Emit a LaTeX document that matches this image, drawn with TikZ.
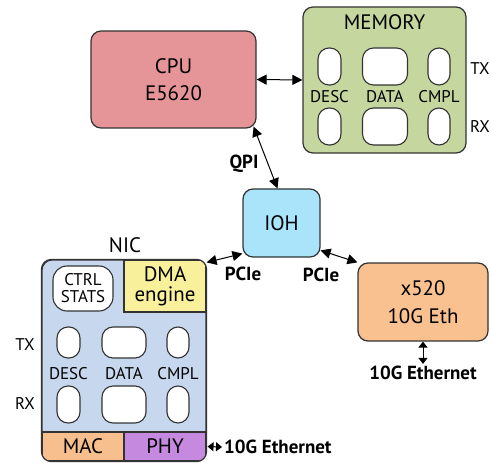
\documentclass[tikz,border=0pt]{standalone}
\usepackage{fontspec}
\setmainfont{PT Sans}
\usetikzlibrary{arrows.meta}
\definecolor{edgecol}{HTML}{333333}
\definecolor{cpucol}{HTML}{E59597}
\definecolor{memcol}{HTML}{C5D79E}
\definecolor{iohcol}{HTML}{AAE4FB}
\definecolor{ethcol}{HTML}{F8C18F}
\definecolor{niccol}{HTML}{C7D8EE}
\definecolor{dmacol}{HTML}{F8F09A}
\definecolor{maccol}{HTML}{F8BF8E}
\definecolor{phycol}{HTML}{C58AE0}
\newcommand\bigfont{\fontsize{21}{24}\selectfont}
\newcommand\midfont{\fontsize{17}{19}\selectfont}
\newcommand\busfont{\fontsize{19}{22}\selectfont\bfseries}
\tikzset{
  blk/.style     = {draw=edgecol,line width=1.2bp,rounded corners=10bp,inner sep=0pt,align=center,font=\bigfont},
  pill/.style    = {draw=edgecol,line width=1.1bp,fill=white,inner sep=0pt,rounded corners=11bp},
  part/.style    = {draw=edgecol,line width=1.1bp,inner sep=0pt,align=center,font=\bigfont},
  dblarr/.style  = {{Triangle[length=10bp,width=10bp]}-{Triangle[length=10bp,width=10bp]},line width=1bp},
  tinyarr/.style = {{Triangle[length=6bp,width=9bp]}-{Triangle[length=6bp,width=9bp]},line width=1bp},
  lbl/.style     = {font=\midfont,inner sep=0pt},
  bus/.style     = {font=\busfont,inner sep=0pt}
}

\begin{document}
\begin{tikzpicture}[x=1bp,y=-1bp]
  \useasboundingbox (0,0) rectangle (491,463);
  % host side
  \node[blk,fill=cpucol,minimum width=165bp,minimum height=97bp] (cpu) at (173.5,79.5)
    {CPU\\[3bp]E5620};
  \node[blk,fill=memcol,minimum width=163bp,minimum height=146bp] (mem) at (384.5,80) {};
  \node[font=\bigfont,inner sep=0pt] (memlbl) at (384.5,22) {MEMORY};
  \node[blk,fill=iohcol,minimum width=77bp,minimum height=68bp] (ioh) at (281.5,223) {IOH};
  \node[blk,fill=ethcol,minimum width=130bp,minimum height=78bp] (x520) at (423,302)
    {x520\\[4bp]10G Eth};
  % memory rings
  \foreach \col/\cx/\w in {desc/329.5/23,data/385/45,cmpl/439/22} {
    \node[pill,minimum width=\w bp,minimum height=37bp] (mtx\col) at (\cx,66.5) {};
    \node[pill,minimum width=\w bp,minimum height=37bp] (mrx\col) at (\cx,126.5) {};
  }
  \node[lbl] (mdesc) at (329.5,97) {DESC};
  \node[lbl] (mdata) at (385,97) {DATA};
  \node[lbl] (mcmpl) at (439,97) {CMPL};
  \node[lbl] (mtx) at (480,69) {TX};
  \node[lbl] (mrx) at (480,127) {RX};
  % NIC
  \node[blk,fill=niccol,minimum width=164bp,minimum height=201bp] (nic) at (124,360.5) {};
  \node[font=\bigfont,inner sep=0pt] (niclbl) at (125,245) {NIC};
  \begin{scope}
    \clip[rounded corners=10bp] (nic.north west) rectangle (nic.south east);
    \node[part,fill=dmacol,minimum width=82bp,minimum height=52bp] (dma) at (165,286)
      {DMA\\[-4bp]engine};
    \node[part,fill=maccol,minimum width=82bp,minimum height=29bp] (mac) at (83,446.5) {MAC};
    \node[part,fill=phycol,minimum width=82bp,minimum height=29bp] (phy) at (165,446.5) {PHY};
  \end{scope}
  \draw[edgecol,line width=1.2bp,rounded corners=10bp] (nic.north west) rectangle (nic.south east);
  \node[pill,rounded corners=14bp,minimum width=60bp,minimum height=45bp,align=center,font=\midfont]
    (ctrl) at (83,288.5) {CTRL\\[-2bp]STATS};
  \foreach \col/\cx/\w in {desc/68.5/23,data/124/44,cmpl/178/22} {
    \node[pill,minimum width=\w bp,minimum height=31bp] (ntx\col) at (\cx,342.5) {};
    \node[pill,minimum width=\w bp,minimum height=37bp] (nrx\col) at (\cx,404.5) {};
  }
  \node[lbl] (ndesc) at (68.5,374) {DESC};
  \node[lbl] (ndata) at (124,374) {DATA};
  \node[lbl] (ncmpl) at (178,374) {CMPL};
  \node[lbl] (ntx) at (25,345) {TX};
  \node[lbl] (nrx) at (25,404) {RX};
  % links
  \draw[dblarr] (cpu.east) -- (mem.west);
  \draw[dblarr] ([xshift=-3bp,yshift=2bp]cpu.south east) -- ([xshift=-4bp]ioh.north);
  \node[bus] (qpi) at (244,164) {QPI};
  \draw[dblarr] ([yshift=-3bp]nic.north east) -- ([yshift=4bp]ioh.south west);
  \node[bus] (pcil) at (243,274) {PCIe};
  \draw[dblarr] (ioh.-35) -- (x520.north west);
  \node[bus] (pcir) at (321,275) {PCIe};
  \node[bus] (ethr) at (423,373) {10G Ethernet};
  \draw[tinyarr] (x520.south) -- ([yshift=2bp]ethr.north);
  \node[bus,anchor=west] (ethl) at (224,447) {10G Ethernet};
  \draw[tinyarr] ([xshift=1bp]phy.east) -- ([xshift=-2bp]ethl.west);
\end{tikzpicture}
\end{document}
